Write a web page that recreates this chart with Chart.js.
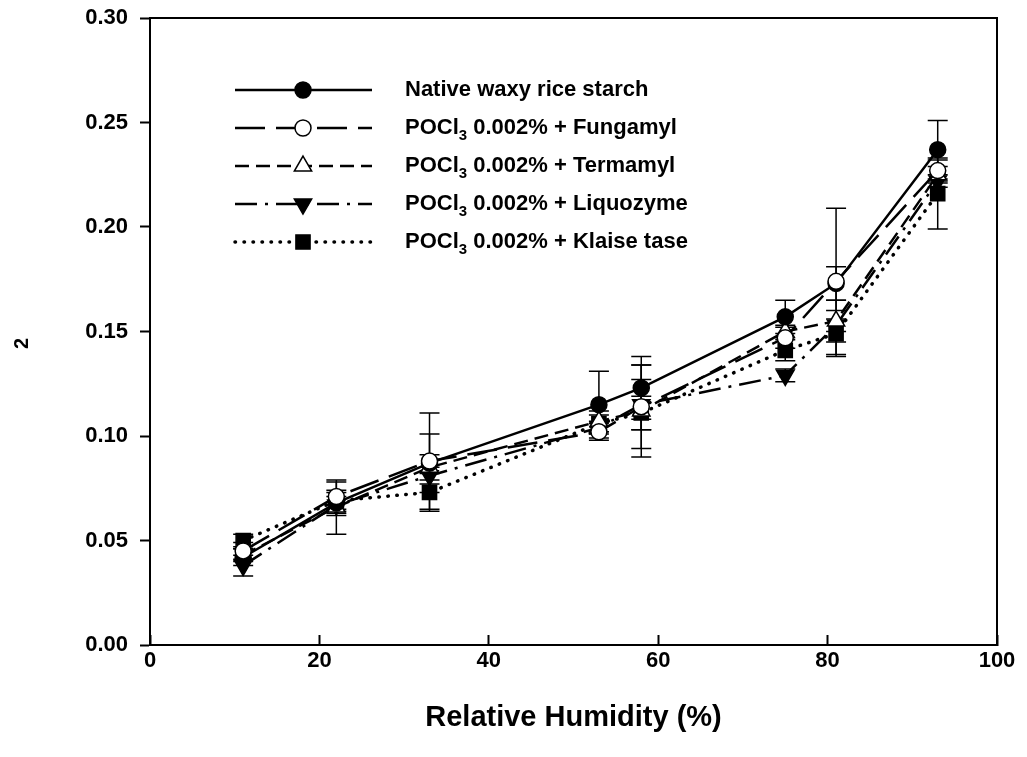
<!DOCTYPE html>
<html>
<head>
<meta charset="utf-8">
<script src="https://cdn.jsdelivr.net/npm/chart.js@4.4.1/dist/chart.umd.min.js"></script>
<style>
  html, body { margin: 0; padding: 0; background: #fff; }
  canvas { display: block; }
</style>
</head>
<body>
<canvas id="graficoSorcao" width="1027" height="757"></canvas>
<script>
const fonte = "'Liberation Sans', Arial, Helvetica, sans-serif";

// umidade relativa (%)
const umidade = [11, 22, 33, 53, 58, 75, 81, 93];

// valores
const nativo    = [0.042, 0.068, 0.087, 0.115, 0.123, 0.157, 0.173, 0.237];
const fungamyl  = [0.045, 0.071, 0.088, 0.102, 0.114, 0.147, 0.174, 0.227];
const termamyl  = [0.043, 0.066, 0.085, 0.107, 0.112, 0.150, 0.155, 0.225];
const liquozyme = [0.038, 0.067, 0.081, 0.104, 0.115, 0.129, 0.153, 0.222];
const klaise    = [0.050, 0.069, 0.073, 0.106, 0.111, 0.141, 0.149, 0.216];

// barras de erro (+/-)
const erroNativo    = [0.004, 0.006, 0.014, 0.016, 0.015, 0.008, 0.008, 0.014];
const erroFungamyl  = [0.004, 0.007, 0.023, 0.004, 0.020, 0.005, 0.035, 0.005];
const erroTermamyl  = [0.003, 0.013, 0.006, 0.005, 0.022, 0.003, 0.010, 0.004];
const erroLiquozyme = [0.005, 0.004, 0.004, 0.003, 0.012, 0.003, 0.003, 0.003];
const erroKlaise    = [0.003, 0.004, 0.009, 0.004, 0.008, 0.005, 0.011, 0.017];

const xTicks = [0, 20, 40, 60, 80, 100];
const yTicks = [0.00, 0.05, 0.10, 0.15, 0.20, 0.25, 0.30];

const nomes = [
  'Native waxy rice starch',
  'POCl3 0.002% + Fungamyl',
  'POCl3 0.002% + Termamyl',
  'POCl3 0.002% + Liquozyme',
  'POCl3 0.002% + Klaise tase'
];

function pontos(valores) {
  return umidade.map((x, i) => ({ x: x, y: valores[i] }));
}

function serie(nome, valores, erros, estilo) {
  return Object.assign({
    label: nome,
    data: pontos(valores),
    erros: erros,
    borderColor: '#000',
    borderWidth: 2.5,
    pointBorderColor: '#000',
    pointBorderWidth: 1.5,
    tension: 0,
    fill: false
  }, estilo);
}

const datasets = [
  serie(nomes[0], nativo, erroNativo, {
    borderDash: [], pointStyle: 'circle', pointRadius: 8,
    pointBackgroundColor: '#000', order: 2
  }),
  serie(nomes[1], fungamyl, erroFungamyl, {
    borderDash: [30, 11], pointStyle: 'circle', pointRadius: 8,
    pointBackgroundColor: '#fff', order: 1
  }),
  serie(nomes[2], termamyl, erroTermamyl, {
    borderDash: [14, 7], pointStyle: 'triangle', pointRadius: 10,
    pointBackgroundColor: '#fff', order: 3
  }),
  serie(nomes[3], liquozyme, erroLiquozyme, {
    borderDash: [22, 8, 3, 8], pointStyle: 'triangle', pointRadius: 10, pointRotation: 180,
    pointBackgroundColor: '#000', order: 4
  }),
  serie(nomes[4], klaise, erroKlaise, {
    borderDash: [0.5, 8.5], borderCapStyle: 'round', borderWidth: 3.5,
    pointStyle: 'rect', pointRadius: 10,
    pointBackgroundColor: '#000', order: 5
  })
];

// escreve "POCl3" com o 3 subscrito
function textoQuimico(ctx, texto, x, y, tam) {
  const m = texto.match(/^(.*?POCl)(3)(.*)$/);
  ctx.font = 'bold ' + tam + 'px ' + fonte;
  if (!m) { ctx.fillText(texto, x, y); return; }
  ctx.fillText(m[1], x, y);
  x += ctx.measureText(m[1]).width;
  ctx.font = 'bold ' + Math.round(tam * 0.7) + 'px ' + fonte;
  ctx.fillText(m[2], x, y + 8);
  x += ctx.measureText(m[2]).width;
  ctx.font = 'bold ' + tam + 'px ' + fonte;
  ctx.fillText(m[3], x, y);
}

const barrasDeErro = {
  id: 'barrasDeErro',
  beforeDatasetsDraw(chart) {
    const ctx = chart.ctx;
    const ys = chart.scales.y;
    ctx.save();
    ctx.strokeStyle = '#000';
    ctx.lineWidth = 1.5;
    ctx.setLineDash([]);
    chart.data.datasets.forEach((ds, i) => {
      const meta = chart.getDatasetMeta(i);
      meta.data.forEach((p, j) => {
        const v = ds.data[j].y, e = ds.erros[j];
        const yTopo = ys.getPixelForValue(v + e);
        const yBase = ys.getPixelForValue(v - e);
        ctx.beginPath();
        ctx.moveTo(p.x, yTopo); ctx.lineTo(p.x, yBase);
        ctx.moveTo(p.x - 10, yTopo); ctx.lineTo(p.x + 10, yTopo);
        ctx.moveTo(p.x - 10, yBase); ctx.lineTo(p.x + 10, yBase);
        ctx.stroke();
      });
    });
    ctx.restore();
  }
};

const molduraELegenda = {
  id: 'molduraELegenda',
  afterDraw(chart) {
    const ctx = chart.ctx;
    const a = chart.chartArea;
    ctx.save();
    ctx.strokeStyle = '#000';
    ctx.lineWidth = 2;
    ctx.setLineDash([]);
    ctx.strokeRect(a.left, a.top, a.right - a.left, a.bottom - a.top);

    // legenda
    chart.data.datasets.forEach((ds, i) => {
      const y = 90 + i * 38;
      ctx.setLineDash(ds.borderDash);
      ctx.lineCap = ds.borderCapStyle || 'butt';
      ctx.lineWidth = ds.borderWidth;
      ctx.beginPath();
      ctx.moveTo(235, y); ctx.lineTo(372, y);
      ctx.stroke();
      ctx.setLineDash([]);
      ctx.lineCap = 'butt';
      ctx.fillStyle = ds.pointBackgroundColor;
      ctx.lineWidth = ds.pointBorderWidth;
      Chart.helpers.drawPoint(ctx, {
        pointStyle: ds.pointStyle,
        rotation: ds.pointRotation || 0,
        radius: ds.pointRadius,
        borderWidth: ds.pointBorderWidth
      }, 303, y);
      ctx.fillStyle = '#000';
      ctx.textAlign = 'left';
      ctx.textBaseline = 'middle';
      textoQuimico(ctx, ds.label, 405, y, 22);
    });

    // título do eixo y (quase todo fora da área visível)
    ctx.translate(-9, 349);
    ctx.rotate(-Math.PI / 2);
    ctx.fillStyle = '#000';
    ctx.textBaseline = 'alphabetic';
    ctx.font = 'bold 29px ' + fonte;
    ctx.textAlign = 'right';
    ctx.fillText('Moisture content (g H', 0, 0);
    ctx.textAlign = 'left';
    ctx.font = 'bold 20px ' + fonte;
    ctx.fillText('2', 0, 37);
    const w2 = ctx.measureText('2').width;
    ctx.font = 'bold 29px ' + fonte;
    ctx.fillText('O)', w2, 0);
    ctx.restore();
  }
};

new Chart(document.getElementById('graficoSorcao'), {
  type: 'line',
  data: { datasets: datasets },
  options: {
    responsive: false,
    animation: false,
    layout: { padding: { top: 18, right: 30, left: 0, bottom: 0 } },
    plugins: {
      legend: { display: false },
      tooltip: { enabled: false }
    },
    scales: {
      x: {
        type: 'linear',
        min: 0,
        max: 100,
        afterBuildTicks: s => { s.ticks = xTicks.map(v => ({ value: v })); },
        afterFit: s => { s.height = 112; s.paddingLeft = 0; s.paddingRight = 0; },
        border: { color: '#000', width: 2 },
        grid: { drawOnChartArea: false, drawTicks: true, tickLength: -10, tickColor: '#000', tickWidth: 2 },
        ticks: {
          color: '#000', padding: 13, maxRotation: 0,
          font: { family: fonte, size: 22, weight: 'bold' }
        },
        title: {
          display: true,
          text: 'Relative Humidity (%)',
          color: '#000',
          font: { family: fonte, size: 29, weight: 'bold' },
          padding: { top: 0, bottom: 22 }
        }
      },
      y: {
        min: 0,
        max: 0.3,
        afterBuildTicks: s => { s.ticks = yTicks.map(v => ({ value: v })); },
        afterFit: s => { s.width = 150; s.paddingTop = 0; s.paddingBottom = 0; },
        border: { color: '#000', width: 2 },
        grid: { drawOnChartArea: false, drawTicks: true, tickLength: 10, tickColor: '#000', tickWidth: 2 },
        ticks: {
          color: '#000', padding: 12,
          font: { family: fonte, size: 22, weight: 'bold' },
          callback: v => v.toFixed(2)
        }
      }
    }
  },
  plugins: [barrasDeErro, molduraELegenda]
});
</script>
</body>
</html>
